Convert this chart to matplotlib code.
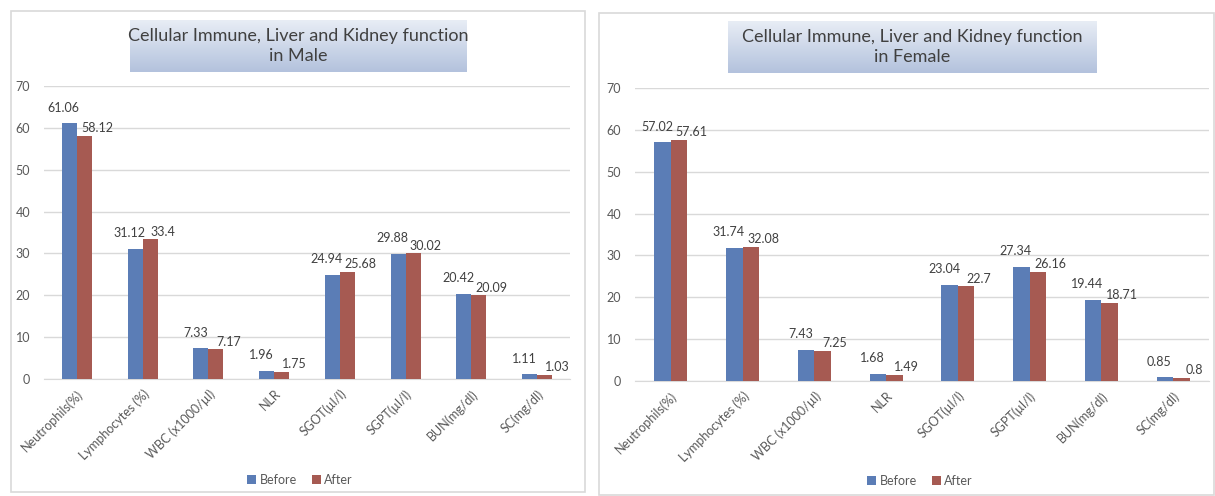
import numpy as np
import matplotlib.pyplot as plt
from matplotlib.patches import Rectangle

plt.rcParams['font.family'] = ['Lato', 'DejaVu Sans']

categories = ["Neutrophils(%)", "Lymphocytes (%)", "WBC (x1000/µl)", "NLR",
              "SGOT(µl/l)", "SGPT(µl/l)", "BUN(mg/dl)", "SC(mg/dl)"]
male_before = [61.06, 31.12, 7.33, 1.96, 24.94, 29.88, 20.42, 1.11]
male_after = [58.12, 33.4, 7.17, 1.75, 25.68, 30.02, 20.09, 1.03]
female_before = [57.02, 31.74, 7.43, 1.68, 23.04, 27.34, 19.44, 0.85]
female_after = [57.61, 32.08, 7.25, 1.49, 22.7, 26.16, 18.71, 0.8]
titles = ["Cellular Immune, Liver and Kidney function\nin Male",
          "Cellular Immune, Liver and Kidney function\nin Female"]

blue = "#5b7db6"
red = "#a65a52"
grey_txt = "#595959"
W, H = 1215, 496

fig = plt.figure(figsize=(W / 100, H / 100), dpi=100)


def px(x0, y0, x1, y1):
    # pixel box (top-left origin) -> figure fraction rect
    return [x0 / W, 1 - y1 / H, (x1 - x0) / W, (y1 - y0) / H]


# panel frames
for (x0, y0, x1, y1) in [(11, 11, 585, 492), (599, 13, 1214, 495)]:
    fig.patches.append(Rectangle((x0 / W, 1 - y1 / H), (x1 - x0) / W, (y1 - y0) / H,
                                 transform=fig.transFigure, fill=False,
                                 edgecolor="#d9d9d9", linewidth=1.2))

panels = [
    dict(ax=px(44, 86, 570, 379), before=male_before, after=male_after,
         tbox=px(130, 20, 467, 72), leg=(300 / W, 1 - 480 / H)),
    dict(ax=px(635, 88, 1209, 381), before=female_before, after=female_after,
         tbox=px(728, 21, 1097, 73), leg=(920 / W, 1 - 481 / H)),
]

grad = np.linspace(0, 1, 100).reshape(-1, 1)
from matplotlib.colors import LinearSegmentedColormap
cmap = LinearSegmentedColormap.from_list("tb", ["#e8edf5", "#b3c2dd"])

x = np.arange(len(categories))
w = 0.23

for i, p in enumerate(panels):
    ax = fig.add_axes(p["ax"])
    b1 = ax.bar(x - w / 2, p["before"], w, color=blue, label="Before", zorder=3)
    b2 = ax.bar(x + w / 2, p["after"], w, color=red, label="After", zorder=3)
    for xi, v in zip(x, p["before"]):
        ax.annotate(f"{v:g}", (xi - w / 2, v), xytext=(-4, 7), textcoords="offset points",
                    ha="center", va="bottom", fontsize=9, color="#404040")
    for xi, v in zip(x, p["after"]):
        ax.annotate(f"{v:g}", (xi + w / 2, v), xytext=(9, 1), textcoords="offset points",
                    ha="center", va="bottom", fontsize=9, color="#404040")
    ax.set_ylim(0, 70)
    ax.set_xlim(-0.5, len(categories) - 0.5)
    ax.set_yticks(range(0, 71, 10))
    ax.set_xticks(x)
    ax.set_xticklabels(categories, rotation=45, ha="right", rotation_mode="anchor",
                       fontsize=9, color=grey_txt)
    ax.tick_params(axis="y", length=0, pad=10, labelsize=9, labelcolor=grey_txt)
    ax.tick_params(axis="x", length=0, pad=6)
    ax.yaxis.grid(True, color="#d9d9d9", linewidth=1, zorder=0)
    ax.set_axisbelow(True)
    for s in ["left", "right", "top"]:
        ax.spines[s].set_visible(False)
    ax.spines["bottom"].set_color("#d9d9d9")

    # title box with gradient
    tax = fig.add_axes(p["tbox"])
    tax.imshow(grad, aspect="auto", cmap=cmap, extent=(0, 1, 0, 1), origin="upper")
    tax.set_xlim(0, 1)
    tax.set_ylim(0, 1)
    tax.axis("off")
    tax.text(0.5, 0.5, titles[i], ha="center", va="center", fontsize=13,
             color="#404040", linespacing=1.35)

    fig.legend(handles=[b1, b2], labels=["Before", "After"], loc="center",
               bbox_to_anchor=p["leg"], ncol=2, frameon=False, fontsize=9,
               handlelength=0.7, handleheight=0.7, handletextpad=0.3,
               columnspacing=1.2, labelcolor=grey_txt)

fig.savefig("out.png", dpi=100)
